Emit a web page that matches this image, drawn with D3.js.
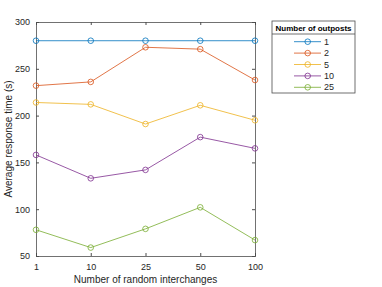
<!DOCTYPE html>
<html>
<head>
<meta charset="utf-8">
<script src="https://cdn.jsdelivr.net/npm/d3@7"></script>
<style>
	body { margin: 0; background: #fff; }
	svg { font-family: "Liberation Sans", Arial, sans-serif; }
	.axis path, .axis line { stroke: #4d4d4d; }
	.axis text { fill: #262626; font-size: 9px; }
</style>
</head>
<body>
<div class="chart"></div>
<script>
(function() {

	const interchanges = ["1", "10", "25", "50", "100"];
	const outposts = ["1", "2", "5", "10", "25"];
	const yTicks = [50, 100, 150, 200, 250, 300];

	const resp1 = [280, 280, 280, 280, 280];
	const resp2 = [232, 236, 273, 271, 238];
	const resp5 = [214, 212, 191, 211, 195];
	const resp10 = [158, 133, 142, 177, 165];
	const resp25 = [78, 59, 79, 102, 67];

	const colors = ["#0072bd", "#d95319", "#edb120", "#7e2f8e", "#77ac30"];

	const series = [resp1, resp2, resp5, resp10, resp25].map((v, i) => ({
		name: outposts[i],
		color: colors[i],
		values: v.map((d, j) => ({x: interchanges[j], y: d}))
	}));

	const W = 382, H = 287;
	const margin = {top: 22, right: 127, bottom: 31, left: 36},
		width = W - margin.left - margin.right,
		height = H - margin.top - margin.bottom;

	const svg = d3.select(".chart").append("svg")
		.attr("width", W)
		.attr("height", H);

	const g = svg.append("g")
		.attr("transform", "translate(" + margin.left + "," + margin.top + ")");

	const x = d3.scalePoint()
		.domain(interchanges)
		.range([0, width]);

	const y = d3.scaleLinear()
		.domain([50, 300])
		.range([height, 0]);

	// box axes, ticks inward like matlab
	g.append("g")
		.attr("class", "axis")
		.attr("transform", "translate(0," + height + ")")
		.call(d3.axisBottom(x).tickSize(-3).tickPadding(8));

	g.append("g")
		.attr("class", "axis")
		.call(d3.axisLeft(y).tickValues(yTicks).tickSize(-3).tickPadding(6));

	g.append("g")
		.attr("class", "axis")
		.call(d3.axisTop(x).tickSize(-3).tickFormat(""));

	g.append("g")
		.attr("class", "axis")
		.attr("transform", "translate(" + width + ",0)")
		.call(d3.axisRight(y).tickValues(yTicks).tickSize(-3).tickFormat(""));

	g.selectAll(".axis .domain").attr("stroke-width", 0.8);

	const line = d3.line()
		.x(d => x(d.x))
		.y(d => y(d.y));

	const s = g.selectAll(".series")
		.data(series)
		.enter().append("g")
		.attr("class", "series");

	s.append("path")
		.attr("d", d => line(d.values))
		.attr("fill", "none")
		.attr("stroke", d => d.color)
		.attr("stroke-width", 0.8);

	s.selectAll("circle")
		.data(d => d.values.map(v => ({v: v, color: d.color})))
		.enter().append("circle")
		.attr("cx", d => x(d.v.x))
		.attr("cy", d => y(d.v.y))
		.attr("r", 2.8)
		.attr("fill", "none")
		.attr("stroke", d => d.color)
		.attr("stroke-width", 0.8);

	// axis labels
	svg.append("text")
		.attr("x", margin.left + width / 2)
		.attr("y", 283)
		.attr("text-anchor", "middle")
		.attr("font-size", "10px")
		.attr("fill", "#262626")
		.text("Number of random interchanges");

	svg.append("text")
		.attr("transform", "translate(12," + (margin.top + height / 2) + ") rotate(-90)")
		.attr("text-anchor", "middle")
		.attr("font-size", "10px")
		.attr("fill", "#262626")
		.text("Average response time (s)");

	// legend
	const lg = svg.append("g")
		.attr("transform", "translate(272,21)");

	lg.append("rect")
		.attr("width", 83)
		.attr("height", 72)
		.attr("fill", "#fff")
		.attr("stroke", "#4d4d4d")
		.attr("stroke-width", 0.8);

	lg.append("line")
		.attr("x1", 0).attr("x2", 83)
		.attr("y1", 13).attr("y2", 13)
		.attr("stroke", "#4d4d4d")
		.attr("stroke-width", 0.8);

	lg.append("text")
		.attr("x", 41.5)
		.attr("y", 9.5)
		.attr("text-anchor", "middle")
		.attr("font-size", "8px")
		.attr("font-weight", "bold")
		.attr("fill", "#000")
		.text("Number of outposts");

	const item = lg.selectAll(".item")
		.data(series)
		.enter().append("g")
		.attr("class", "item")
		.attr("transform", (d, i) => "translate(0," + (20.7 + i * 11.4) + ")");

	item.append("line")
		.attr("x1", 22).attr("x2", 49)
		.attr("stroke", d => d.color)
		.attr("stroke-width", 0.8);

	item.append("circle")
		.attr("cx", 35.7)
		.attr("r", 2.8)
		.attr("fill", "none")
		.attr("stroke", d => d.color)
		.attr("stroke-width", 0.8);

	item.append("text")
		.attr("x", 52)
		.attr("dy", "0.35em")
		.attr("font-size", "9px")
		.attr("fill", "#262626")
		.text(d => d.name);

})();
</script>
</body>
</html>
